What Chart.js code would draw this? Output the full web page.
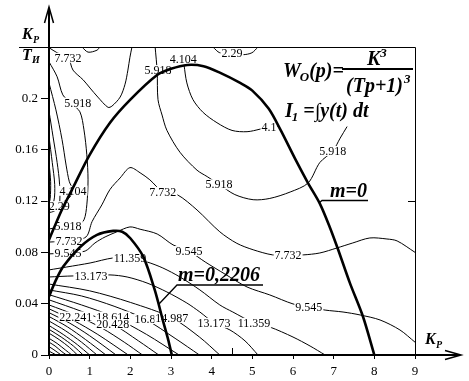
<!DOCTYPE html>
<html><head><meta charset="utf-8">
<script src="https://cdn.jsdelivr.net/npm/chart.js@4"></script>
<style>html,body{margin:0;padding:0;background:#fff}#wrap{width:469px;height:381px}</style>
</head><body><div id="wrap"><canvas id="c" width="469" height="381"></canvas></div>
<script>
// ---- axes ----
const xTickValues = [0,1,2,3,4,5,6,7,8,9];
const yTickLabels = ['0','0.04','0.08','0.12','0.16','0.2'];

// ---- boundary curves ----
const mZero = [[0,0.0897],[0.3,0.112],[0.6,0.131],[1.0,0.156],[1.5,0.181],[2.0,0.199],[2.65,0.218],[3.0,0.223],[3.4,0.226],[3.8,0.225],[4.2,0.220],[4.7,0.212],[5.0,0.206],[5.4,0.192],[5.7,0.175],[6.05,0.153],[6.37,0.134],[6.66,0.118],[6.9,0.100],[7.1,0.083],[7.4,0.056],[7.72,0.030],[8.0,0]];
const m2206 = [[0,0.0455],[0.15,0.057],[0.35,0.069],[0.76,0.084],[1.18,0.0936],[1.58,0.0967],[1.8,0.096],[2.0,0.091],[2.32,0.0765],[2.6,0.0507],[2.8,0.027],[2.93,0.012],[3.02,0]];

// ---- contour lines ----
const c229Top = [[4.03,0.240],[4.2,0.2355],[4.5,0.2352],[4.77,0.234],[4.99,0.2355],[5.14,0.240]];
const c4104Top = [[3.32,0.226],[3.39,0.212],[3.54,0.199],[3.79,0.189],[4.13,0.181],[4.5,0.175],[4.87,0.174],[5.19,0.176],[5.41,0.178],[5.66,0.178]];
const c5918Mid = [[2.61,0.240],[2.66,0.221],[2.68,0.199],[2.78,0.187],[2.9,0.175],[3.22,0.158],[3.64,0.144],[3.89,0.139],[4.18,0.133],[4.57,0.125],[5.02,0.121],[5.43,0.122],[5.93,0.127],[6.37,0.134],[6.66,0.150],[6.98,0.159],[7.16,0.169],[7.33,0.178]];
const c7732Top = [[0,0.2395],[0.2,0.2355],[0.47,0.2316],[0.59,0.222],[0.84,0.2144],[1.01,0.208],[1.2,0.201],[1.45,0.193],[1.55,0.194],[1.75,0.201],[1.87,0.211],[1.94,0.222],[1.99,0.232],[2.04,0.240]];
const c9545Top = [[0.81,0.240],[0.96,0.236],[1.18,0.2375],[1.25,0.240]];
const c5918Left = [[0,0.2285],[0.2,0.2168],[0.34,0.2027],[0.55,0.196],[0.76,0.1895],[0.86,0.1754],[0.93,0.156],[0.96,0.1365],[0.93,0.117],[0.86,0.1053],[0.7,0.101],[0.47,0.1006],[0,0.0982]];
const c4104Left = [[0,0.212],[0.17,0.191],[0.32,0.168],[0.42,0.148],[0.5,0.135],[0.59,0.128],[0.45,0.121],[0.2,0.118],[0,0.117]];
const c229Left = [[0,0.19],[0.1,0.17],[0.2,0.15],[0.26,0.133],[0.25,0.116],[0.12,0.112],[0,0.111]];
const cInnerA = [[0,0.17],[0.08,0.15],[0.14,0.133],[0.12,0.12],[0,0.114]];
const cInnerB = [[0,0.15],[0.04,0.135],[0.03,0.122],[0,0.118]];
const c7732Low = [[0,0.088],[0.49,0.089],[0.91,0.092],[1.06,0.104],[1.30,0.117],[1.50,0.129],[1.75,0.138],[1.99,0.146],[2.24,0.142],[2.48,0.1365],[2.80,0.127],[3.15,0.125],[3.64,0.113],[4.2,0.096],[4.62,0.087],[5.02,0.082],[5.5,0.078],[5.88,0.078],[6.25,0.078],[6.66,0.0795],[7.08,0.0834],[7.47,0.0873],[7.89,0.0912],[8.31,0.0904],[8.56,0.0889],[9.0,0.080]];
const c9545 = [[0,0.0788],[0.47,0.0795],[0.89,0.081],[1.13,0.0873],[1.38,0.092],[1.67,0.096],[1.99,0.0998],[2.24,0.098],[2.66,0.0943],[3.05,0.0858],[3.44,0.081],[3.84,0.0725],[4.33,0.063],[4.87,0.053],[5.43,0.0468],[6.0,0.0398],[6.39,0.0374],[6.79,0.035],[7.23,0.0335],[7.65,0.0312],[8.14,0.0273],[8.63,0.0195],[9.0,0.010]];
const c11359 = [[0,0.0663],[0.44,0.0686],[1.01,0.0717],[1.57,0.0756],[1.99,0.0756],[2.41,0.0725],[2.80,0.0678],[3.22,0.0608],[3.71,0.0507],[4.2,0.039],[4.52,0.0335],[5.04,0.025],[5.43,0.0218],[6.0,0.014],[6.42,0.007],[6.79,0]];
const c13173 = [[0,0.0608],[0.59,0.0616],[1.03,0.0616],[1.50,0.0624],[1.92,0.0608],[2.41,0.0561],[2.90,0.0491],[3.39,0.0405],[3.71,0.0335],[4.06,0.025],[4.45,0.0195],[4.82,0.011],[5.14,0]];
const c14987 = [[0,0.0553],[1,0.050],[2,0.041],[3.02,0.029],[3.7,0.014],[4.2,0]];
const c16800 = [[0,0.0507],[0.8,0.046],[1.6,0.038],[2.36,0.028],[3.1,0.013],[3.7,0]];
const c18614 = [[0,0.047],[0.8,0.039],[1.57,0.030],[2.4,0.016],[3.2,0]];
const c20428 = [[0,0.043],[0.8,0.034],[1.57,0.024],[2.2,0.011],[2.7,0]];
const c22241 = [[0,0.039],[0.66,0.031],[1.3,0.021],[1.85,0.010],[2.3,0]];
const c24055 = [[0,0.036],[0.6,0.027],[1.2,0.016],[1.95,0]];
const c25869 = [[0,0.033],[0.5,0.025],[1.0,0.015],[1.65,0]];
const c27682 = [[0,0.030],[0.45,0.022],[0.9,0.012],[1.4,0]];
const c29496 = [[0,0.0265],[0.4,0.019],[0.8,0.010],[1.18,0]];
const c31310 = [[0,0.023],[0.35,0.016],[0.7,0.008],[1.0,0]];
const c33123 = [[0,0.020],[0.3,0.014],[0.6,0.007],[0.84,0]];
const c34937 = [[0,0.017],[0.25,0.012],[0.5,0.006],[0.7,0]];
const c36750 = [[0,0.013],[0.2,0.009],[0.4,0.004],[0.56,0]];
const c38564 = [[0,0.010],[0.15,0.007],[0.3,0.003],[0.43,0]];
const c40378 = [[0,0.0065],[0.1,0.0045],[0.3,0]];
const c42191 = [[0,0.003],[0.18,0]];

// ---- contour level labels ----
const levelLabelText = ['7.732','5.918','5.918','4.104','2.29','4.1','5.918','5.918','7.732','7.732','4.104','2.29','5.918','7.732','9.545','11.359','9.545','13.173','22.241','18.614','20.428','16.8','14.987','13.173','11.359','9.545'];
const levelLabelX = [0.47,0.71,2.68,3.30,4.5,5.41,4.18,6.98,2.80,5.88,0.59,0.25,0.47,0.49,0.47,1.99,3.44,1.03,0.66,1.57,1.57,2.36,3.02,4.06,5.04,6.39];
const levelLabelY = [0.2316,0.1965,0.222,0.2308,0.2355,0.178,0.133,0.159,0.127,0.078,0.128,0.116,0.1006,0.089,0.0795,0.0756,0.081,0.0616,0.030,0.030,0.024,0.028,0.029,0.025,0.025,0.0374];

const thinCurves = [c229Top,c4104Top,c5918Mid,c7732Top,c9545Top,c5918Left,c4104Left,c229Left,cInnerA,cInnerB,c7732Low,c9545,c11359,c13173,c14987,c16800,c18614,c20428,c22241,c24055,c25869,c27682,c29496,c31310,c33123,c34937,c36750,c38564,c40378,c42191];

const toPts = a => a.map(p => ({x:p[0], y:p[1]}));
const datasets = [
  {data: toPts(mZero), borderWidth: 2.6},
  {data: toPts(m2206), borderWidth: 2.6}
].concat(thinCurves.map(c => ({data: toPts(c), borderWidth: 1})));
datasets.forEach(d => { d.borderColor = '#000'; d.pointRadius = 0; d.tension = 0.3; d.fill = false; d.showLine = true; });

const SERIF = '"Liberation Serif","Times New Roman",serif';

function drawLevelLabels(chart){
  const ctx = chart.ctx, xs = chart.scales.x, ys = chart.scales.y;
  ctx.save();
  ctx.font = '12px ' + SERIF;
  ctx.textAlign = 'center'; ctx.textBaseline = 'middle';
  for (let i = 0; i < levelLabelText.length; i++) {
    const px = xs.getPixelForValue(levelLabelX[i]), py = ys.getPixelForValue(levelLabelY[i]);
    const w = ctx.measureText(levelLabelText[i]).width;
    ctx.fillStyle = '#fff';
    ctx.fillRect(px - w/2 - 1, py - 5, w + 2, 10);
    ctx.fillStyle = '#000';
    ctx.fillText(levelLabelText[i], px, py + 1);
  }
  ctx.restore();
}

function txt(ctx, s, x, y, size){
  ctx.font = 'italic bold ' + size + 'px ' + SERIF;
  ctx.fillText(s, x, y);
  return x + ctx.measureText(s).width;
}

const deco = {
  id: 'deco',
  beforeDatasetDraw(chart, args){ if (args.index === 1) drawLevelLabels(chart); },
  afterDraw(chart){
    const ctx = chart.ctx, a = chart.chartArea, xs = chart.scales.x, ys = chart.scales.y;
    const L = a.left, R = a.right, T = a.top, B = a.bottom;
    ctx.save();
    ctx.strokeStyle = '#000'; ctx.fillStyle = '#000';
    // frame (top + right)
    ctx.lineWidth = 1;
    ctx.beginPath(); ctx.moveTo(19, T + 0.5); ctx.lineTo(R + 0.5, T + 0.5); ctx.lineTo(R + 0.5, B); ctx.stroke();
    // centre marks
    const yc = ys.getPixelForValue(0.12);
    ctx.beginPath(); ctx.moveTo(R - 7, yc + 0.5); ctx.lineTo(R, yc + 0.5); ctx.stroke();
    const xc = xs.getPixelForValue(4.5);
    ctx.beginPath(); ctx.moveTo(xc + 0.5, B - 7); ctx.lineTo(xc + 0.5, B); ctx.stroke();
    // y axis with arrow
    ctx.lineWidth = 2;
    ctx.beginPath(); ctx.moveTo(L, B + 1); ctx.lineTo(L, 8); ctx.stroke();
    ctx.lineWidth = 1.5;
    ctx.beginPath(); ctx.moveTo(L - 4.5, 23); ctx.lineTo(L, 7); ctx.lineTo(L + 4.5, 23); ctx.stroke();
    // x axis with arrow
    ctx.lineWidth = 2.2;
    ctx.beginPath(); ctx.moveTo(L - 1, B); ctx.lineTo(459, B); ctx.stroke();
    ctx.lineWidth = 1.5;
    ctx.beginPath(); ctx.moveTo(445, B - 4.5); ctx.lineTo(461, B); ctx.lineTo(445, B + 4.5); ctx.stroke();

    ctx.textAlign = 'left'; ctx.textBaseline = 'alphabetic';
    // axis titles
    txt(ctx, 'K', 22, 39, 16); txt(ctx, 'P', 33, 43, 10);
    txt(ctx, 'T', 22, 60, 16); txt(ctx, 'И', 32, 63, 10);
    txt(ctx, 'K', 425, 344, 16); txt(ctx, 'P', 436, 348, 10);

    // transfer function
    let x = txt(ctx, 'W', 283, 77, 20);
    x = txt(ctx, 'O', x - 1, 81, 13);
    txt(ctx, '(p)=', x, 77, 20);
    ctx.fillRect(342, 68, 71, 2);
    x = txt(ctx, 'K', 367, 65, 20);
    txt(ctx, '3', x, 57, 13);
    x = txt(ctx, '(Tp+1)', 346, 92, 20);
    txt(ctx, '3', x + 1, 83, 13);
    // criterion
    x = txt(ctx, 'I', 285, 117, 20);
    x = txt(ctx, '1', x - 1, 121, 13);
    txt(ctx, ' =\u222By(t) dt', x, 117, 20);

    // boundary labels
    x = txt(ctx, 'm=0', 330, 197, 20);
    ctx.lineWidth = 1.3;
    ctx.beginPath(); ctx.moveTo(319, 203); ctx.lineTo(322, 200.5); ctx.lineTo(368, 200.5); ctx.stroke();
    x = txt(ctx, 'm=0,2206', 178, 281, 20);
    ctx.beginPath(); ctx.moveTo(159, 304); ctx.lineTo(177, 285); ctx.lineTo(263, 285); ctx.stroke();
    ctx.restore();
  }
};

new Chart(document.getElementById('c'), {
  type: 'scatter',
  data: { datasets },
  options: {
    responsive: false,
    animation: false,
    events: [],
    layout: { padding: { left: 0, top: 47, right: 54, bottom: 0 } },
    plugins: { legend: { display: false }, tooltip: { enabled: false } },
    scales: {
      x: {
        type: 'linear', min: 0, max: 9,
        afterBuildTicks: s => { s.ticks = xTickValues.map(v => ({value: v})); },
        afterFit: s => { s.height = 26; },
        grid: { drawOnChartArea: false, drawTicks: true, tickLength: 4, color: '#000' },
        border: { display: false },
        ticks: { color: '#000', padding: 5, maxRotation: 0, font: { family: SERIF, size: 13 }, callback: v => String(v) }
      },
      y: {
        type: 'linear', min: 0, max: 0.24,
        afterBuildTicks: s => { s.ticks = yTickLabels.map((t, i) => ({value: i * 0.04})); },
        afterFit: s => { s.width = 49; },
        grid: { drawOnChartArea: false, drawTicks: true, tickLength: 8, color: '#000' },
        border: { display: false },
        ticks: { color: '#000', padding: 3, font: { family: SERIF, size: 13 },
                 callback: (v, i) => yTickLabels[i] }
      }
    }
  },
  plugins: [deco]
});
</script>
</body></html>
